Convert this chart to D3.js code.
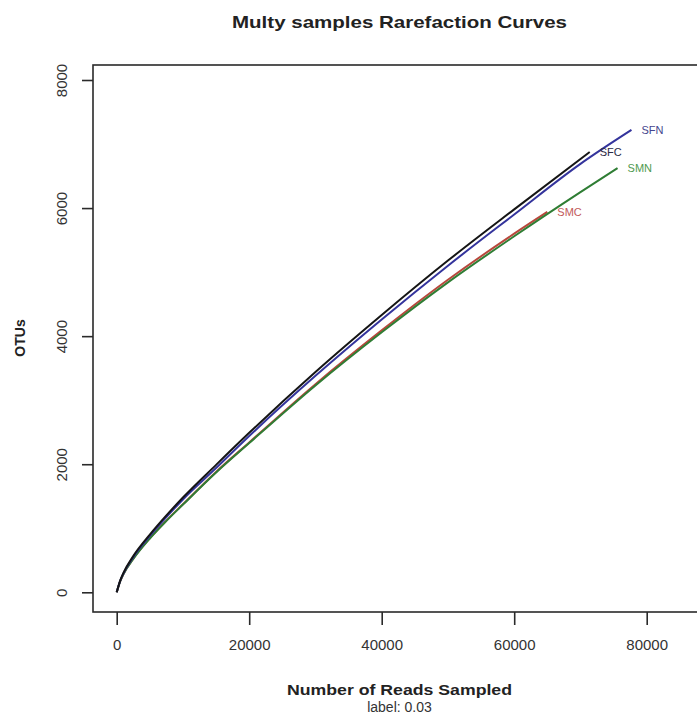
<!DOCTYPE html>
<html>
<head>
<meta charset="utf-8">
<script src="https://cdn.jsdelivr.net/npm/d3@7"></script>
<style>
    body { margin: 0; background: #fff; }
    svg { display: block; font-family: "Liberation Sans", Arial, sans-serif; }
</style>
</head>
<body>
<svg id="chart" width="697" height="717"></svg>
<script>
// Rarefaction data (reads sampled -> OTUs)
var sampleNames = ["SMC", "SMN", "SFN", "SFC"];

var readsSMC = [0, 500, 1000, 2500, 5000, 7500, 10000, 15000, 20000, 30000, 40000, 50000, 60000, 65000];
var otusSMC  = [0, 165, 280, 525, 845, 1120, 1375, 1880, 2340, 3250, 4090, 4880, 5600, 5940];

var readsSMN = [0, 500, 1000, 2500, 5000, 7500, 10000, 15000, 20000, 30000, 40000, 50000, 60000, 70000, 75600];
var otusSMN  = [0, 165, 280, 520, 840, 1115, 1370, 1870, 2330, 3230, 4060, 4840, 5560, 6250, 6625];

var readsSFN = [0, 500, 1000, 2500, 5000, 7500, 10000, 15000, 20000, 30000, 40000, 50000, 60000, 70000, 77700];
var otusSFN  = [0, 170, 290, 550, 880, 1175, 1450, 1940, 2440, 3380, 4260, 5100, 5900, 6690, 7220];

var readsSFC = [0, 500, 1000, 2500, 5000, 7500, 10000, 15000, 20000, 30000, 40000, 50000, 60000, 71400];
var otusSFC  = [0, 175, 300, 565, 900, 1200, 1480, 1990, 2490, 3440, 4330, 5180, 5980, 6875];

var xTicks = [0, 20000, 40000, 60000, 80000];
var yTicks = [0, 2000, 4000, 6000, 8000];

var lineColors  = {SMC: "#b8473c", SMN: "#2f7d34", SFN: "#34349c", SFC: "#151515"};
var labelColors = {SMC: "#c25a5a", SMN: "#4f9a4f", SFN: "#45458e", SFC: "#2b2b45"};

var allReads = {SMC: readsSMC, SMN: readsSMN, SFN: readsSFN, SFC: readsSFC};
var allOtus  = {SMC: otusSMC,  SMN: otusSMN,  SFN: otusSFN,  SFC: otusSFC};

var series = sampleNames.map(function (name) {
    return {
        name: name,
        values: allReads[name].map(function (r, i) {
            return {reads: r, otus: allOtus[name][i]};
        })
    };
});

// plot frame (R style box, the right side runs past the picture)
var frame = {left: 93, top: 65, right: 706, bottom: 612};

var svg = d3.select("#chart");

var xScale = d3.scaleLinear()
    .domain([0, 80000])
    .range([116.7, 646.7]);

var yScale = d3.scaleLinear()
    .domain([0, 8000])
    .range([592.3, 80]);

// box
svg.append("rect")
    .attr("x", frame.left)
    .attr("y", frame.top)
    .attr("width", frame.right - frame.left)
    .attr("height", frame.bottom - frame.top)
    .attr("fill", "none")
    .attr("stroke", "#2a2a2a")
    .attr("stroke-width", 1.6);

// x axis
var xAxis = d3.axisBottom(xScale)
    .tickValues(xTicks)
    .tickFormat(d3.format("d"))
    .tickSize(13)
    .tickPadding(14);

var xAxisGroup = svg.append("g")
    .attr("transform", "translate(0," + frame.bottom + ")")
    .call(xAxis);
xAxisGroup.select(".domain").remove();
xAxisGroup.selectAll("line").attr("stroke", "#2a2a2a").attr("stroke-width", 1.6);
xAxisGroup.selectAll("text")
    .attr("font-size", 15)
    .attr("font-family", "Liberation Sans, Arial, sans-serif")
    .attr("fill", "#333");

// y axis, labels parallel to the axis like R does
var yAxis = d3.axisLeft(yScale)
    .tickValues(yTicks)
    .tickFormat(d3.format("d"))
    .tickSize(11);

var yAxisGroup = svg.append("g")
    .attr("transform", "translate(" + frame.left + ",0)")
    .call(yAxis);
yAxisGroup.select(".domain").remove();
yAxisGroup.selectAll("line").attr("stroke", "#2a2a2a").attr("stroke-width", 1.6);
yAxisGroup.selectAll("text")
    .attr("font-size", 15)
    .attr("font-family", "Liberation Sans, Arial, sans-serif")
    .attr("fill", "#333")
    .attr("text-anchor", "middle")
    .attr("x", 0)
    .attr("y", -26)
    .attr("dy", 0)
    .attr("transform", "rotate(-90)");

// curves
var line = d3.line()
    .x(function (d) { return xScale(d.reads); })
    .y(function (d) { return yScale(d.otus); })
    .curve(d3.curveMonotoneX);

svg.append("g").selectAll("path")
    .data(series)
    .enter().append("path")
    .attr("d", function (d) { return line(d.values); })
    .attr("fill", "none")
    .attr("stroke", function (d) { return lineColors[d.name]; })
    .attr("stroke-width", 2);

// sample names at the end of each curve
svg.append("g").selectAll("text")
    .data(series)
    .enter().append("text")
    .attr("x", function (d) { return xScale(d.values[d.values.length - 1].reads) + 10; })
    .attr("y", function (d) { return yScale(d.values[d.values.length - 1].otus) + 4; })
    .attr("font-size", 11)
    .attr("fill", function (d) { return labelColors[d.name]; })
    .text(function (d) { return d.name; });

// titles
svg.append("text")
    .attr("x", 399.5)
    .attr("y", 28)
    .attr("text-anchor", "middle")
    .attr("font-size", 17)
    .attr("font-weight", "bold")
    .attr("fill", "#222")
    .attr("textLength", 335)
    .attr("lengthAdjust", "spacingAndGlyphs")
    .text("Multy samples Rarefaction Curves");

svg.append("text")
    .attr("x", 399.5)
    .attr("y", 695)
    .attr("text-anchor", "middle")
    .attr("font-size", 15)
    .attr("font-weight", "bold")
    .attr("fill", "#222")
    .attr("textLength", 225)
    .attr("lengthAdjust", "spacingAndGlyphs")
    .text("Number of Reads Sampled");

svg.append("text")
    .attr("x", 399.5)
    .attr("y", 712)
    .attr("text-anchor", "middle")
    .attr("font-size", 14)
    .attr("fill", "#333")
    .text("label: 0.03");

svg.append("text")
    .attr("transform", "translate(25,338) rotate(-90)")
    .attr("text-anchor", "middle")
    .attr("font-size", 14)
    .attr("font-weight", "bold")
    .attr("fill", "#222")
    .text("OTUs");
</script>
</body>
</html>
